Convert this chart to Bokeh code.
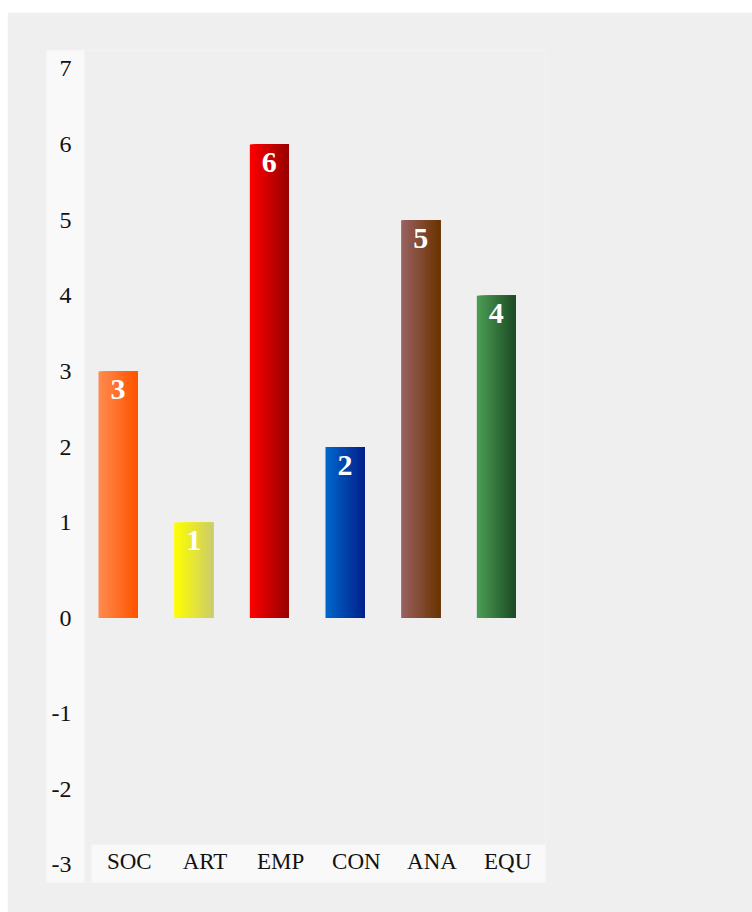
import numpy as np
from bokeh.plotting import figure
from bokeh.models import FixedTicker, Spacer
from bokeh.layouts import column, row
from bokeh.embed import file_html
from bokeh.resources import INLINE
from bokeh.core.properties import value

# ---- data ----
categories = ["SOC", "ART", "EMP", "CON", "ANA", "EQU"]
values = [3, 1, 6, 2, 5, 4]
colors_left = ["#ff8c50", "#ffff00", "#ff0000", "#0068cc", "#9a6262", "#4c9e54"]
colors_right = ["#ff5200", "#cccc6c", "#960000", "#00208a", "#6a3300", "#1c4a24"]
y_tick_values = [-3, -2, -1, 0, 1, 2, 3, 4, 5, 6, 7]

# ---- scale helpers ----
ZERO_GAP = 0.26          # the axis keeps a band around zero
BAR_OFFSET = 0.0925      # bar start inside its category band
BAR_WIDTH = 0.515
N_STRIPS = 30

def disp(v):
    return round(float(v + ZERO_GAP * np.sign(v)), 4)

def hex2rgb(h):
    h = h.lstrip("#")
    return np.array([int(h[i:i + 2], 16) for i in (0, 2, 4)], dtype=float)

def rgb2hex(c):
    return "#%02x%02x%02x" % tuple(int(round(x)) for x in c)

FONT = "Liberation Serif"
BG = "#efefef"
PANEL = "#f9f9f9"

X0, X1 = -0.5947, 6.0
Y0, Y1 = -3.4945, 7.502

p = figure(
    width=745, height=900,
    frame_width=499, frame_height=832,
    x_range=(X0, X1), y_range=(Y0, Y1),
    output_backend="svg", toolbar_location=None,
    min_border_left=39, min_border_top=38, min_border_right=207, min_border_bottom=30,
)
p.background_fill_color = BG
p.border_fill_color = BG
p.outline_line_color = None
p.grid.visible = False

# light panels behind the tick labels
p.quad(left=[X0], right=[-0.0925], bottom=[Y0], top=[Y1],
       fill_color=PANEL, line_color=None)
p.quad(left=[0.0], right=[len(categories)], bottom=[Y0], top=[-2.992],
       fill_color=PANEL, line_color=None)

# gradient bars: overlapping strips, each reaching the bar's right edge
L, R, T, B, C = [], [], [], [], []
for i, (v, cl, cr) in enumerate(zip(values, colors_left, colors_right)):
    c1, c2 = hex2rgb(cl), hex2rgb(cr)
    x0 = i + BAR_OFFSET
    for k in range(N_STRIPS):
        t = (k + 0.5) / N_STRIPS
        L.append(x0 + BAR_WIDTH * k / N_STRIPS)
        R.append(x0 + BAR_WIDTH)
        B.append(0)
        T.append(disp(v))
        C.append(rgb2hex(c1 * (1 - t) + c2 * t))
p.quad(left=L, right=R, top=T, bottom=B, fill_color=C, line_color=None)

# value labels
p.text(x=[i + BAR_OFFSET + BAR_WIDTH / 2 for i in range(len(values))],
       y=[disp(v) for v in values], text=[str(v) for v in values],
       text_font=value(FONT), text_font_size="30px", text_font_style="bold",
       text_color="white", text_align="center", text_baseline="alphabetic",
       y_offset=18)

# y axis
yax = p.yaxis[0]
yax.ticker = FixedTicker(ticks=[disp(v) for v in y_tick_values])
yax.major_label_overrides = {disp(v): str(v) for v in y_tick_values}
yax.fixed_location = -0.265
yax.axis_line_color = None
yax.major_tick_line_color = None
yax.minor_tick_line_color = None
yax.major_tick_out = 0
yax.major_label_standoff = 0
yax.major_label_text_font = FONT
yax.major_label_text_font_size = "24px"
yax.major_label_text_color = "#111111"

# x axis
xax = p.xaxis[0]
xax.ticker = FixedTicker(ticks=[i + 0.5 for i in range(len(categories))])
xax.major_label_overrides = {i + 0.5: c for i, c in enumerate(categories)}
xax.fixed_location = -3.163
xax.axis_line_color = None
xax.major_tick_line_color = None
xax.minor_tick_line_color = None
xax.major_tick_out = 0
xax.major_label_standoff = -8
xax.major_label_text_font = FONT
xax.major_label_text_font_size = "23px"
xax.major_label_text_color = "#111111"

layout = column(Spacer(height=12), row(Spacer(width=7), p))
open("out.html", "w").write(file_html(layout, INLINE))
